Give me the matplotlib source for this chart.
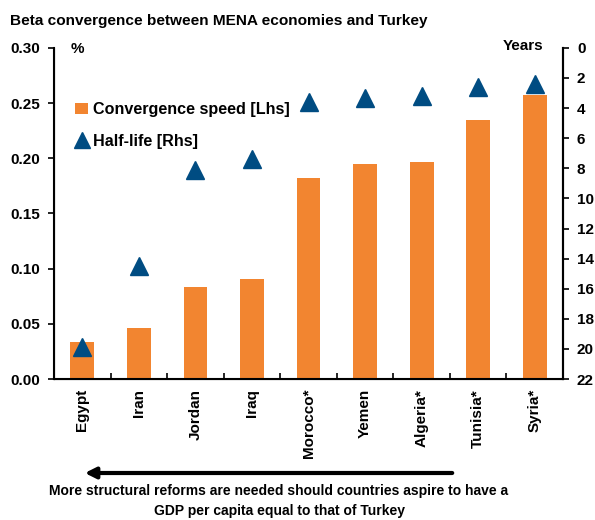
import matplotlib
matplotlib.use("Agg")
import matplotlib.pyplot as plt
from matplotlib.lines import Line2D
from matplotlib.patches import Patch, FancyArrowPatch

plt.rcParams['font.family'] = ['Liberation Sans', 'DejaVu Sans']
plt.rcParams['font.weight'] = 'bold'

countries = ["Egypt", "Iran", "Jordan", "Iraq", "Morocco*", "Yemen", "Algeria*", "Tunisia*", "Syria*"]
speed = [0.034, 0.046, 0.083, 0.091, 0.182, 0.195, 0.197, 0.235, 0.257]
half_life = [19.9, 14.5, 8.1, 7.4, 3.6, 3.3, 3.2, 2.6, 2.4]

orange = "#F28530"
navy = "#004C82"

fig = plt.figure(figsize=(5.95, 5.2), dpi=100)
ax = fig.add_axes([0.0908, 0.271, 0.8555, 0.637])
x = list(range(len(countries)))
ax.bar(x, speed, width=0.42, color=orange, zorder=2)
ax.set_xlim(-0.5, len(countries) - 0.5)
ax.set_ylim(0, 0.30)
ax.set_yticks([0, 0.05, 0.10, 0.15, 0.20, 0.25, 0.30])
ax.set_yticklabels([f"{v:.2f}" for v in ax.get_yticks()], fontsize=11, fontweight='bold')
ax.tick_params(axis='y', direction='out', length=4, width=1.2, pad=6)

ax.set_xticks(x)
ax.set_xticklabels(countries, rotation=90, fontsize=11, fontweight='bold')
ax.tick_params(axis='x', length=0, pad=7)
ax.set_xticks([i + 0.5 for i in range(len(countries) - 1)], minor=True)
ax.tick_params(axis='x', which='minor', direction='in', length=4, width=1.2)

ax.spines["top"].set_visible(False)
for s in ["left", "right", "bottom"]:
    ax.spines[s].set_linewidth(1.5)

ax2 = ax.twinx()
ax2.plot(x, half_life, linestyle='none', marker='^', markersize=12.5, color=navy, zorder=3)
ax2.set_ylim(22, 0)
ax2.set_yticks(range(0, 23, 2))
ax2.set_yticklabels([str(v) for v in range(0, 23, 2)], fontsize=11, fontweight='bold')
ax2.tick_params(axis='y', direction='out', length=4, width=1.2, pad=6)
ax2.spines["top"].set_visible(False)
ax2.spines["right"].set_linewidth(1.5)

handles = [Patch(facecolor=orange, edgecolor='none'),
           Line2D([], [], linestyle='none', marker='^', markersize=12, color=navy)]
ax.legend(handles, ["Convergence speed [Lhs]", "Half-life [Rhs]"],
          loc='upper left', bbox_to_anchor=(0.029, 0.856), frameon=False,
          prop={'size': 11.6, 'weight': 'bold'}, handlelength=0.8, handletextpad=0.3,
          labelspacing=1.05, borderaxespad=0)

fig.text(0.017, 1 - 21 / 520, "Beta convergence between MENA economies and Turkey",
         fontsize=11.1, fontweight='bold', va='center', ha='left')
fig.text(0.118, 0.906, "%", fontsize=11, fontweight='bold', va='center', ha='left')
fig.text(0.913, 0.912, "Years", fontsize=11, fontweight='bold', va='center', ha='right')

fig.add_artist(FancyArrowPatch(
    (455 / 595, 1 - 473 / 520), (82 / 595, 1 - 473 / 520),
    transform=fig.transFigure, arrowstyle='-|>', mutation_scale=16,
    linewidth=3, color='black'))
fig.text(279 / 595, 1 - 491 / 520,
         "More structural reforms are needed should countries aspire to have a",
         fontsize=10, fontweight='bold', ha='center', va='center')
fig.text(279 / 595, 1 - 511 / 520, "GDP per capita equal to that of Turkey",
         fontsize=10, fontweight='bold', ha='center', va='center')

fig.savefig("out.png", dpi=100)
